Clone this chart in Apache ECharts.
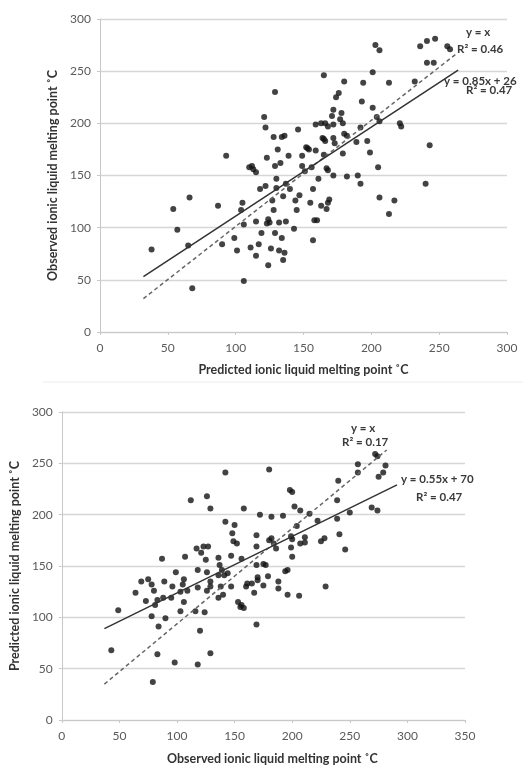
<!DOCTYPE html>
<html>
<head>
<meta charset="utf-8">
<script src="https://cdn.jsdelivr.net/npm/echarts@6/dist/echarts.min.js"></script>
<style>
  html, body { margin: 0; padding: 0; background: #fff; }
  #chart { width: 523px; height: 766px; }
</style>
</head>
<body>
<div id="chart"></div>
<script>
// top panel: predicted (x) vs observed (y)
var topPoints = [
  [38,79],[54,118],[57,98],[66,129],[65,83],[68,42],[87,121],[90,84],[93,169],[99,90],
  [101,78],[104,117],[105,124],[106,103],[106,49],[110,158],[111,81],[112,159],[113,156],[115,153],
  [115,106],[115,73],[117,84],[118,137],[119,95],[121,206],[122,196],[122,140],[123,167],[123,104],
  [124,64],[124,108],[125,105],[126,80],[127,126],[128,187],[128,117],[129,230],[129,159],[129,95],
  [130,147],[130,138],[131,175],[132,105],[132,78],[133,162],[134,187],[134,90],[135,69],[135,130],
  [136,188],[136,76],[137,142],[137,106],[139,169],[140,137],[143,99],[144,126],[145,117],[146,194],
  [147,131],[149,169],[149,159],[151,154],[152,177],[153,176],[154,175],[155,124],[156,158],[157,88],
  [157,137],[158,107],[159,199],[159,174],[160,107],[161,147],[163,121],[163,200],[164,186],[165,185],
  [165,170],[165,246],[166,200],[166,183],[167,157],[167,118],[168,124],[168,155],[168,197],[169,127],
  [171,207],[172,213],[172,199],[172,186],[172,150],[173,181],[174,225],[176,229],[177,204],[178,210],
  [179,200],[179,171],[180,240],[180,190],[182,149],[182,188],[189,182],[190,150],[192,142],[192,196],
  [193,221],[194,239],[197,183],[199,172],[201,249],[201,215],[203,275],[204,206],[205,158],[206,129],
  [206,270],[206,202],[213,113],[213,239],[217,126],[221,200],[222,197],[232,240],[236,274],[240,142],
  [241,279],[241,258],[243,179],[246,258],[247,281],[256,274],[258,271]
];
var topFitLine = [[32,53],[264,251]];
var topIdentityLine = [[32,32],[262,266]];
var topXTicks = [0, 50, 100, 150, 200, 250, 300];
var topYTicks = [0, 50, 100, 150, 200, 250, 300];

// bottom panel: observed (x) vs predicted (y)
var bottomPoints = [
  [43,68],[49,107],[64,124],[69,135],[73,116],[75,137],[78,132],[80,126],[78,101],[79,37],
  [81,112],[83,117],[84,91],[83,64],[87,157],[89,135],[88,119],[90,99],[96,130],[95,119],
  [98,56],[99,144],[103,106],[103,125],[105,132],[106,137],[106,115],[107,159],[109,126],[112,214],
  [116,106],[117,167],[118,146],[118,129],[118,54],[120,87],[121,163],[123,169],[124,105],[125,156],
  [126,126],[126,218],[126,144],[127,169],[129,206],[129,65],[129,135],[129,130],[136,141],[136,119],
  [136,158],[137,151],[138,130],[139,146],[140,122],[141,141],[142,241],[142,193],[144,143],[147,130],
  [147,160],[148,182],[149,174],[150,190],[152,172],[153,115],[155,110],[156,112],[156,157],[158,206],
  [158,109],[160,130],[161,133],[165,133],[167,124],[169,169],[169,180],[169,151],[169,93],[170,139],
  [170,136],[172,200],[175,152],[175,131],[177,151],[179,140],[180,244],[180,175],[182,177],[182,198],
  [184,172],[186,167],[188,135],[188,128],[192,199],[194,145],[196,146],[196,122],[198,224],[200,222],
  [199,179],[200,176],[199,168],[200,159],[202,208],[204,189],[206,121],[207,204],[207,172],[211,178],
  [211,173],[215,201],[222,194],[225,174],[228,177],[229,130],[239,196],[239,214],[240,233],[241,181],
  [246,166],[250,202],[257,249],[257,241],[269,207],[272,259],[274,257],[274,204],[275,237],[279,241],
  [281,248]
];
var bottomFitLine = [[37,89],[291,229]];
var bottomIdentityLine = [[37,35],[282,263]];
var bottomXTicks = [0, 50, 100, 150, 200, 250, 300, 350];
var bottomYTicks = [0, 50, 100, 150, 200, 250, 300];

var FONT = 'Lato, "Open Sans", sans-serif';
var chart = echarts.init(document.getElementById('chart'), null, { renderer: 'canvas' });

function valueAxis(ticks, gridIndex, name, nameGap, isY, namePad) {
  return {
    type: 'value',
    gridIndex: gridIndex,
    min: ticks[0],
    max: ticks[ticks.length - 1],
    interval: ticks[1] - ticks[0],
    name: name,
    nameLocation: 'middle',
    nameGap: nameGap,
    nameTextStyle: {
      color: '#333', fontFamily: FONT, fontSize: 12.5, fontWeight: 'bold',
      padding: namePad || 0
    },
    axisLine: { show: true, lineStyle: { color: '#c8c8c8', width: 1 } },
    axisTick: { show: true, length: 3, lineStyle: { color: '#c8c8c8' } },
    axisLabel: { color: '#5a5a5a', fontFamily: FONT, fontSize: 12, margin: isY ? 9 : 10 },
    splitLine: { show: isY, lineStyle: { color: '#d6d6d6', width: 1.4 } }
  };
}

function scatter(data, idx) {
  return {
    type: 'scatter', xAxisIndex: idx, yAxisIndex: idx, data: data,
    symbolSize: 6, itemStyle: { color: '#141414' }, silent: true
  };
}

function trend(data, idx, dashed) {
  return {
    type: 'line', xAxisIndex: idx, yAxisIndex: idx, data: data,
    showSymbol: false, silent: true,
    lineStyle: { color: dashed ? '#666' : '#333', width: 1.5, type: dashed ? [4, 3] : 'solid' }
  };
}

function label(text, x, y) {
  return {
    type: 'text', left: x, top: y,
    style: { text: text, fill: '#3a3a3a', font: 'bold 11.5px ' + FONT }
  };
}

var option = {
  backgroundColor: '#fff',
  animation: false,
  grid: [
    { left: 100, top: 19, width: 407, height: 313 },
    { left: 61, top: 412, width: 404, height: 311 }
  ],
  xAxis: [
    valueAxis(topXTicks, 0, 'Predicted ionic liquid melting point ˚C', 31, false),
    valueAxis(bottomXTicks, 1, 'Observed ionic liquid melting point ˚C', 32, false, [0, 0, 0, 18])
  ],
  yAxis: [
    valueAxis(topYTicks, 0, 'Observed ionic liquid melting point ˚C', 36, true),
    valueAxis(bottomYTicks, 1, 'Predicted ionic liquid melting point ˚C', 40, true)
  ],
  series: [
    scatter(topPoints, 0),
    trend(topIdentityLine, 0, true),
    trend(topFitLine, 0, false),
    scatter(bottomPoints, 1),
    trend(bottomIdentityLine, 1, true),
    trend(bottomFitLine, 1, false)
  ],
  graphic: [
    { type: 'line', shape: { x1: 43, y1: 382, x2: 523, y2: 382 }, style: { stroke: '#ececec', lineWidth: 1 } },
    label('y = x', 466, 26),
    label('R² = 0.46', 457, 43),
    label('y = 0.85x + 26', 444, 75),
    label('R² = 0.47', 466, 84),
    label('y = x', 351, 422),
    label('R² = 0.17', 342, 436),
    label('y = 0.55x + 70', 401, 473),
    label('R² = 0.47', 416, 491)
  ]
};

chart.setOption(option);
</script>
</body>
</html>
